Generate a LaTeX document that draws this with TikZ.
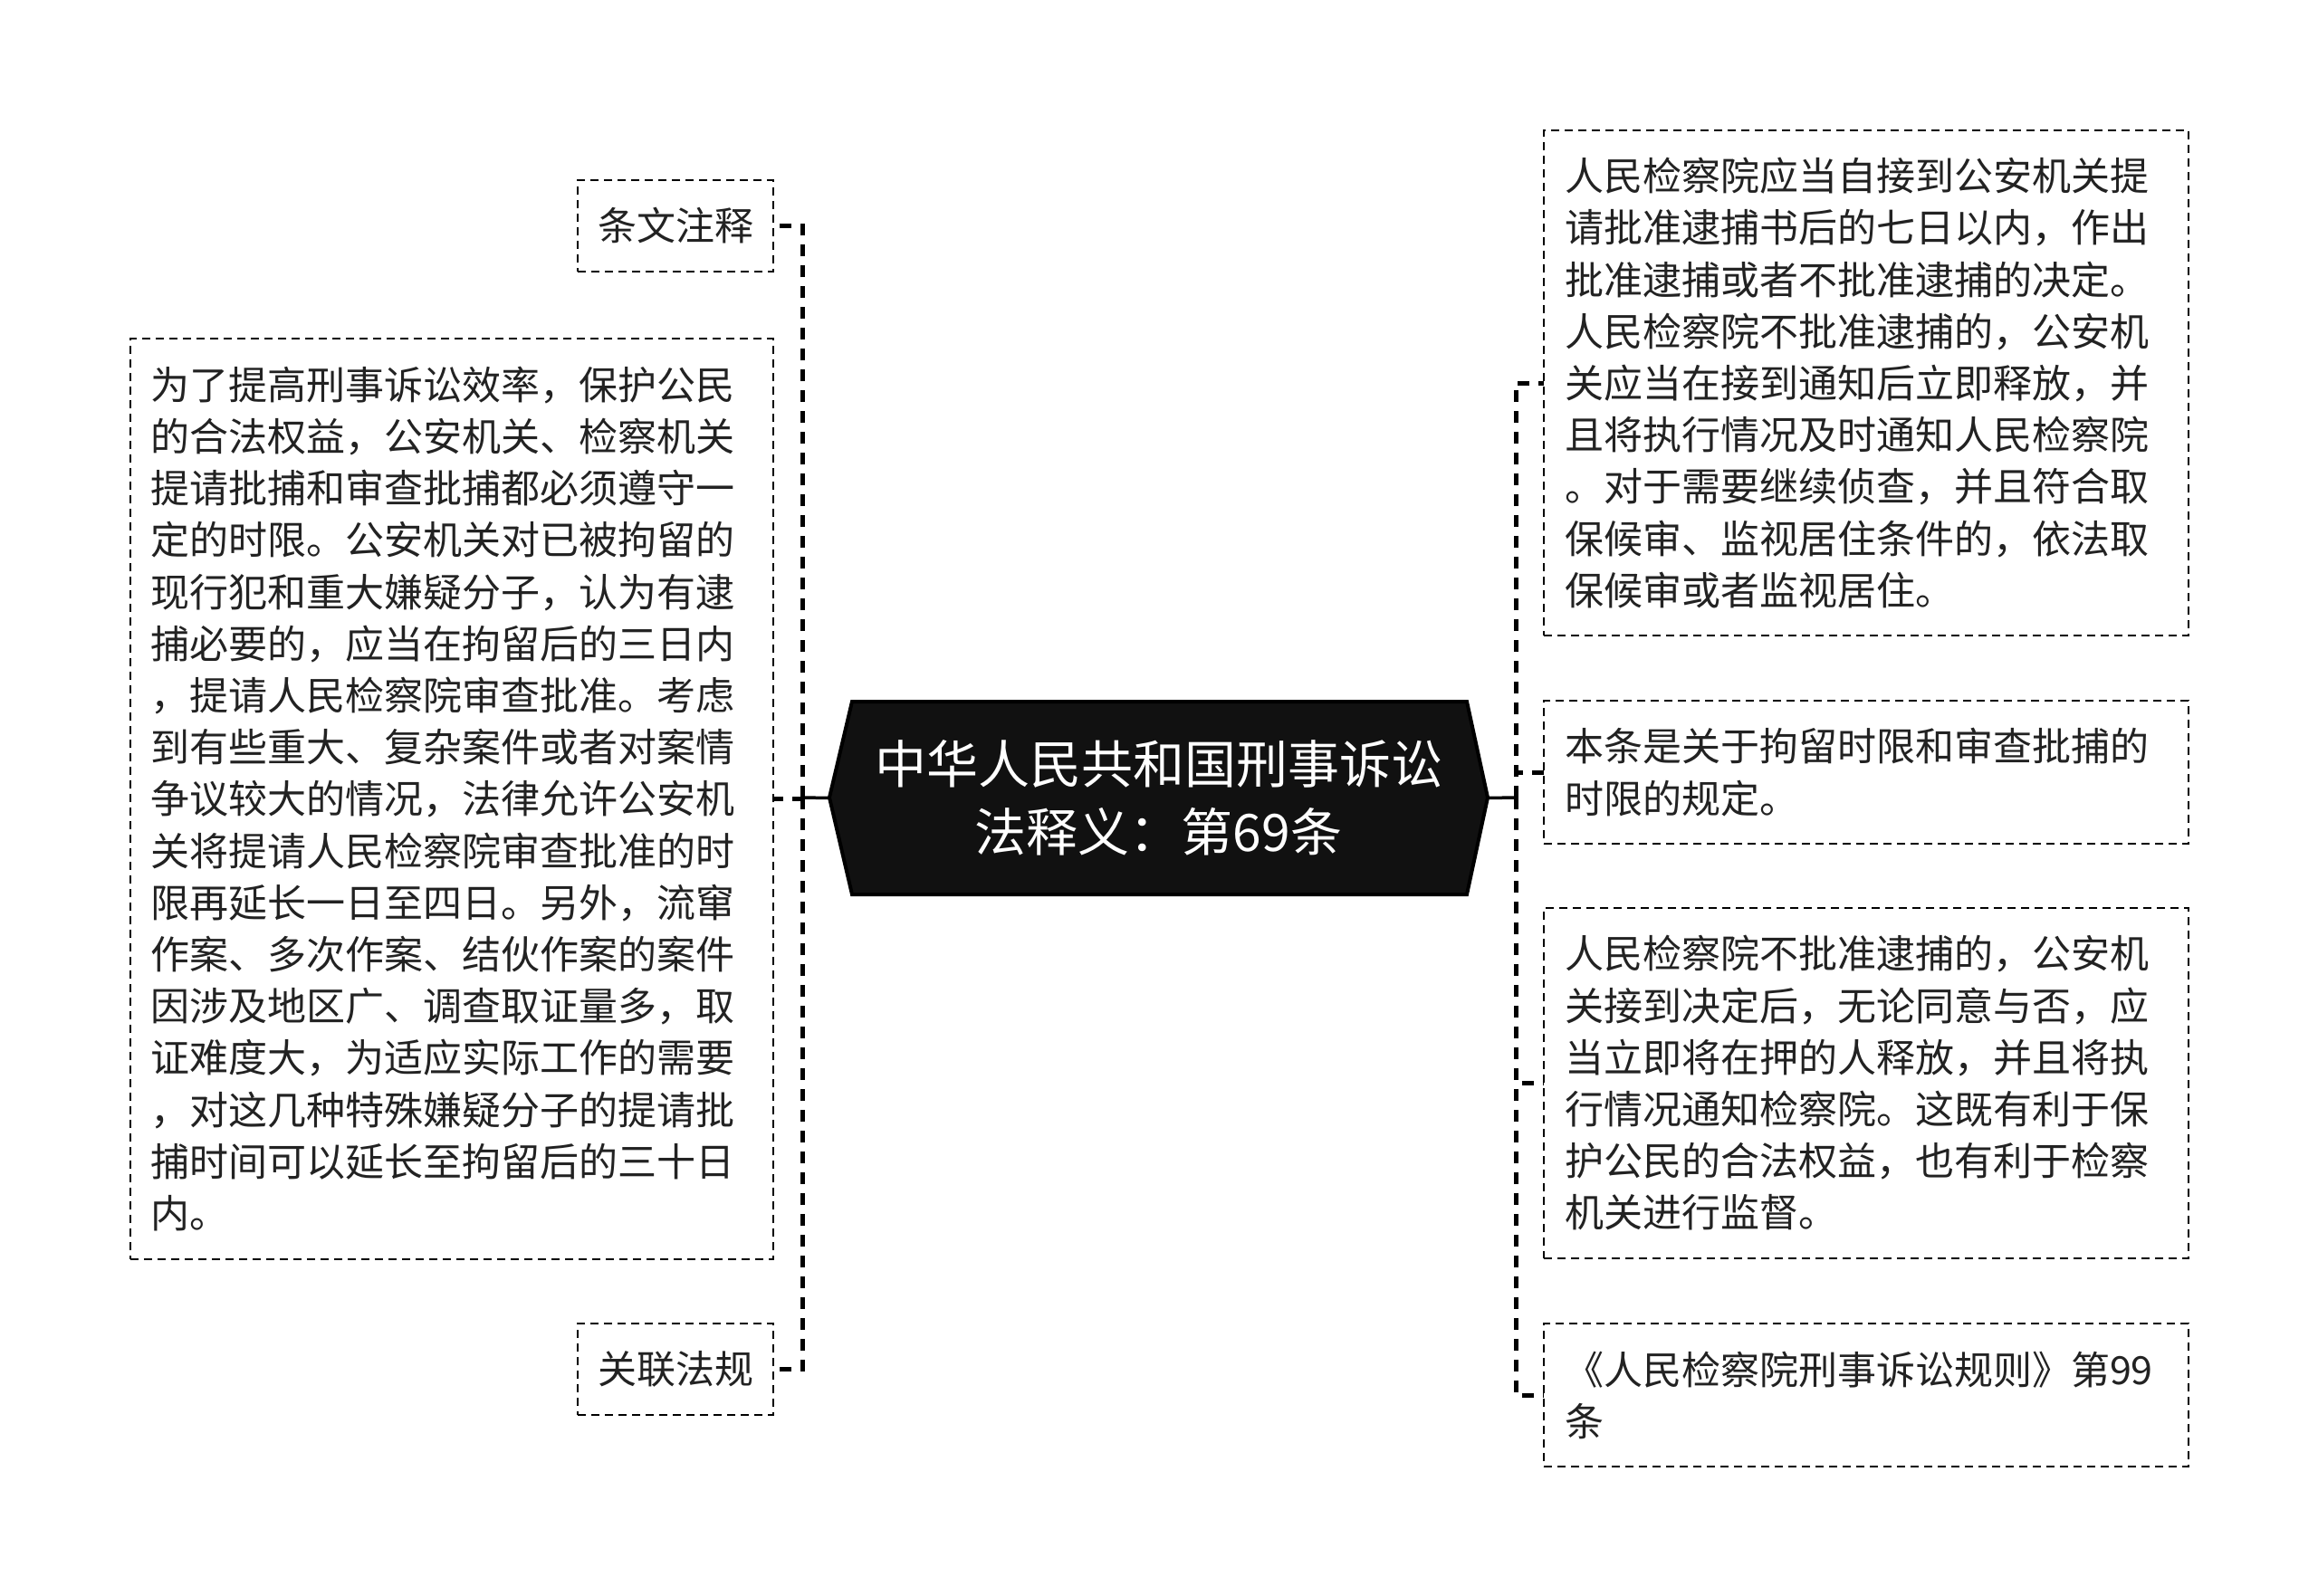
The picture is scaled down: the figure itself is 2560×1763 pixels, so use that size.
\documentclass[tikz,border=0pt]{standalone}
\usepackage{fontspec}
\setmainfont{Noto Sans CJK SC}
\usetikzlibrary{calc}
\definecolor{txt}{HTML}{222222}
\definecolor{rootfill}{HTML}{111111}
\begin{document}
\begin{tikzpicture}[x=1pt,y=-1pt,
  box/.style={draw=black, line width=2.5pt, dash pattern=on 9pt off 6pt, text=txt,
    outer sep=0pt, inner ysep=0pt, anchor=north west,
    font=\fontsize{43pt}{57.2pt}\selectfont},
  leaf/.style={box, align=center, inner xsep=0pt},
  para/.style={box, align=left, text width=666pt},
  conn/.style={line width=5pt, dash pattern=on 13pt off 10pt},
  stem/.style={line width=3.5pt},
  rootbox/.style={text=white, font=\fontsize{57pt}{75pt}\selectfont, align=center,
    minimum width=727pt, minimum height=213pt, inner sep=0pt, outer sep=0pt}
  ]
\useasboundingbox (0,0) rectangle (2560,1763);
\fill[white] (0,0) rectangle (2560,1763);

% root shape
\filldraw[fill=rootfill, draw=black, line width=4pt, line join=miter]
  (916,881) -- (941,775) -- (1620,775) -- (1643,881) -- (1620,988) -- (941,988) -- cycle;
\node[rootbox] (root) at (1279.5,881.5) {中华人民共和国刑事诉讼\\法释义：第69条};

% left side
\node[leaf, minimum width=216pt, minimum height=101pt] (l1) at (638,199) {条文注释};
\node[para, inner xsep=22pt, minimum width=710pt, minimum height=1017pt] (l2) at (144,374)
{为了提高刑事诉讼效率，保护公民\\
的合法权益，公安机关、检察机关\\
提请批捕和审查批捕都必须遵守一\\
定的时限。公安机关对已被拘留的\\
现行犯和重大嫌疑分子，认为有逮\\
捕必要的，应当在拘留后的三日内\\
，提请人民检察院审查批准。考虑\\
到有些重大、复杂案件或者对案情\\
争议较大的情况，法律允许公安机\\
关将提请人民检察院审查批准的时\\
限再延长一日至四日。另外，流窜\\
作案、多次作案、结伙作案的案件\\
因涉及地区广、调查取证量多，取\\
证难度大，为适应实际工作的需要\\
，对这几种特殊嫌疑分子的提请批\\
捕时间可以延长至拘留后的三十日\\
内。};
\node[leaf, minimum width=216pt, minimum height=101pt] (l3) at (638,1462) {关联法规};

% right side
\node[para, inner xsep=23pt, minimum width=712pt, minimum height=558pt] (r1) at (1705,144)
{人民检察院应当自接到公安机关提\\
请批准逮捕书后的七日以内，作出\\
批准逮捕或者不批准逮捕的决定。\\
人民检察院不批准逮捕的，公安机\\
关应当在接到通知后立即释放，并\\
且将执行情况及时通知人民检察院\\
。对于需要继续侦查，并且符合取\\
保候审、监视居住条件的，依法取\\
保候审或者监视居住。};
\node[para, inner xsep=23pt, minimum width=712pt, minimum height=158pt] (r2) at (1705,774)
{本条是关于拘留时限和审查批捕的\\
时限的规定。};
\node[para, inner xsep=23pt, minimum width=712pt, minimum height=387pt] (r3) at (1705,1003)
{人民检察院不批准逮捕的，公安机\\
关接到决定后，无论同意与否，应\\
当立即将在押的人释放，并且将执\\
行情况通知检察院。这既有利于保\\
护公民的合法权益，也有利于检察\\
机关进行监督。};
\node[para, inner xsep=23pt, minimum width=712pt, minimum height=158pt] (r4) at (1705,1462)
{《人民检察院刑事诉讼规则》第99\\
条};

% junctions and connectors
\coordinate (jl) at (886,881);
\coordinate (jr) at (1674,881);
\draw[stem] (root.west) -- (jl);
\draw[stem] (root.east) -- (jr);
\foreach \n in {l1,l2,l3} \draw[conn] (jl) |- (\n.east);
\foreach \n in {r1,r2,r3,r4} \draw[conn] (jr) |- (\n.west);
\end{tikzpicture}
\end{document}
